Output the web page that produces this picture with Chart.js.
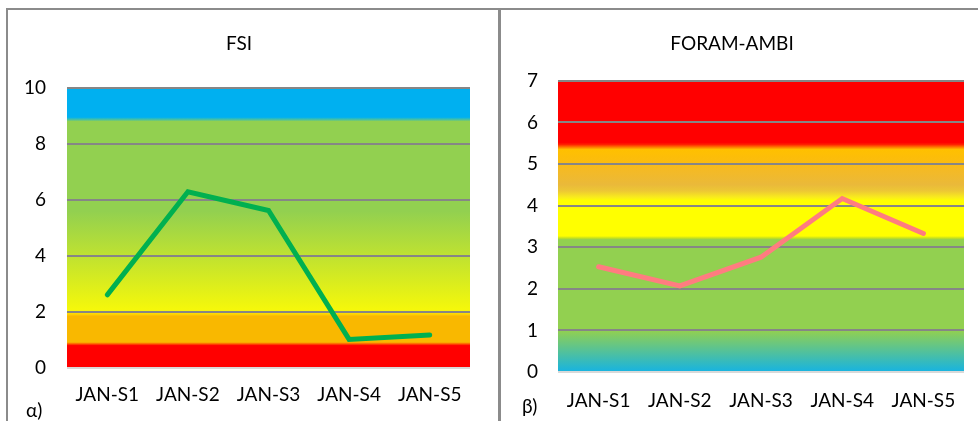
<!DOCTYPE html>
<html>
<head>
<meta charset="utf-8">
<script src="https://cdn.jsdelivr.net/npm/chart.js@4.4.1/dist/chart.umd.min.js"></script>
<style>
  html, body { margin: 0; padding: 0; background: #ffffff; }
  body { width: 978px; height: 421px; overflow: hidden; position: relative; font-family: Lato, "Open Sans", sans-serif; }
  .panel { position: absolute; border: 2px solid #8b8b8b; box-sizing: border-box; }
  #panelA { left: 6px; top: 8px; width: 495px; height: 430px; }
  #panelB { left: 498px; top: 8px; width: 500px; height: 430px; }
  canvas { position: absolute; }
  #fsiChart { left: 8px; top: 10px; }
  #ambiChart { left: 500px; top: 10px; }
  .tag { position: absolute; font-size: 19px; line-height: 19px; color: #000; }
  #tagA { left: 26px; top: 400px; }
  #tagB { left: 522px; top: 396px; }
</style>
</head>
<body>
<div class="panel" id="panelA"></div>
<div class="panel" id="panelB"></div>
<canvas id="fsiChart" width="490" height="411"></canvas>
<canvas id="ambiChart" width="491" height="411"></canvas>
<div class="tag" id="tagA">α)</div>
<div class="tag" id="tagB">β)</div>
<script>
// Sampling stations
const stations = ['JAN-S1', 'JAN-S2', 'JAN-S3', 'JAN-S4', 'JAN-S5'];

// Index values per station
const fsiValues = [2.61, 6.29, 5.62, 1.02, 1.18];
const ambiValues = [2.53, 2.07, 2.76, 4.17, 3.33];

// Axis ranges
const fsiAxis = [0, 10, 2];   // min, max, step
const ambiAxis = [0, 7, 1];

// Ecological-status colour zones, painted behind the grid from value-based stops
const zoneBands = {
  id: 'zoneBands',
  beforeDraw(chart, args, opts) {
    const { ctx, chartArea: a, scales: { y } } = chart;
    const y0 = y.getPixelForValue(y.min);
    const y1 = y.getPixelForValue(y.max);
    const g = ctx.createLinearGradient(0, y0, 0, y1);
    opts.stops.forEach(([v, c]) => g.addColorStop((v - y.min) / (y.max - y.min), c));
    ctx.save();
    ctx.fillStyle = g;
    ctx.fillRect(a.left, a.top, a.right - a.left, a.bottom - a.top);
    ctx.restore();
  }
};

const font = { family: 'Lato, "Open Sans", sans-serif', size: 19 };

function makeChart(id, title, values, axis, color, stops, pad) {
  return new Chart(document.getElementById(id), {
    type: 'line',
    data: {
      labels: stations,
      datasets: [{
        data: values,
        borderColor: color,
        borderWidth: 5,
        borderCapStyle: 'round',
        pointRadius: 0,
        pointHoverRadius: 0,
        tension: 0
      }]
    },
    plugins: [zoneBands],
    options: {
      responsive: false,
      animation: false,
      events: [],
      layout: { padding: { left: 0, right: pad.right, top: 0, bottom: 0 } },
      plugins: {
        legend: { display: false },
        tooltip: { enabled: false },
        title: {
          display: true,
          text: title,
          color: '#000000',
          font: { ...font, weight: 'normal' },
          padding: { top: 22, bottom: pad.titleBottom }
        },
        zoneBands: { stops }
      },
      scales: {
        x: {
          offset: true,
          border: { display: false },
          grid: { display: false, drawTicks: false },
          ticks: { color: '#000000', font, padding: pad.xTick, maxRotation: 0, autoSkip: false },
          afterFit(s) { s.height = pad.xHeight; }
        },
        y: {
          min: axis[0],
          max: axis[1],
          border: { display: false },
          grid: {
            drawTicks: false,
            lineWidth: 2,
            color: c => (c.tick && c.tick.value === axis[0]) ? '#d9d9d9' : '#868686'
          },
          ticks: { stepSize: axis[2], color: '#000000', font, padding: pad.yTick },
          afterFit(s) { s.width = pad.yWidth; }
        }
      }
    }
  });
}

makeChart('fsiChart', 'FSI', fsiValues, fsiAxis, '#00b050', [
  [0, '#ff0000'], [0.8, '#ff0000'], [0.86, '#ff5a00'], [0.92, '#f9b800'],
  [1.85, '#f9b800'], [1.92, '#ffd500'], [2.0, '#ffe800'], [2.05, '#f6f80a'],
  [5.6, '#92d050'], [8.8, '#92d050'], [8.86, '#4dc29c'], [8.95, '#00b0f0'], [10, '#00b0f0']
], { right: 28, titleBottom: 33, xHeight: 53, xTick: 15, yWidth: 59, yTick: 21 });

makeChart('ambiChart', 'FORAM-AMBI', ambiValues, ambiAxis, '#ff7c80', [
  [0, '#16b3e2'], [1.0, '#92d050'], [3.18, '#92d050'], [3.22, '#c6e11e'], [3.27, '#ffff00'],
  [4.12, '#ffff00'], [4.2, '#f9ec1c'], [4.35, '#edc834'], [4.5, '#eab93a'], [4.85, '#f4ba25'],
  [5.05, '#fbbc0e'], [5.35, '#ffc000'], [5.4, '#ff8000'], [5.47, '#ff2000'], [5.52, '#ff0000'], [7, '#ff0000']
], { right: 27, titleBottom: 26, xHeight: 49, xTick: 17, yWidth: 58, yTick: 20 });
</script>
</body>
</html>
